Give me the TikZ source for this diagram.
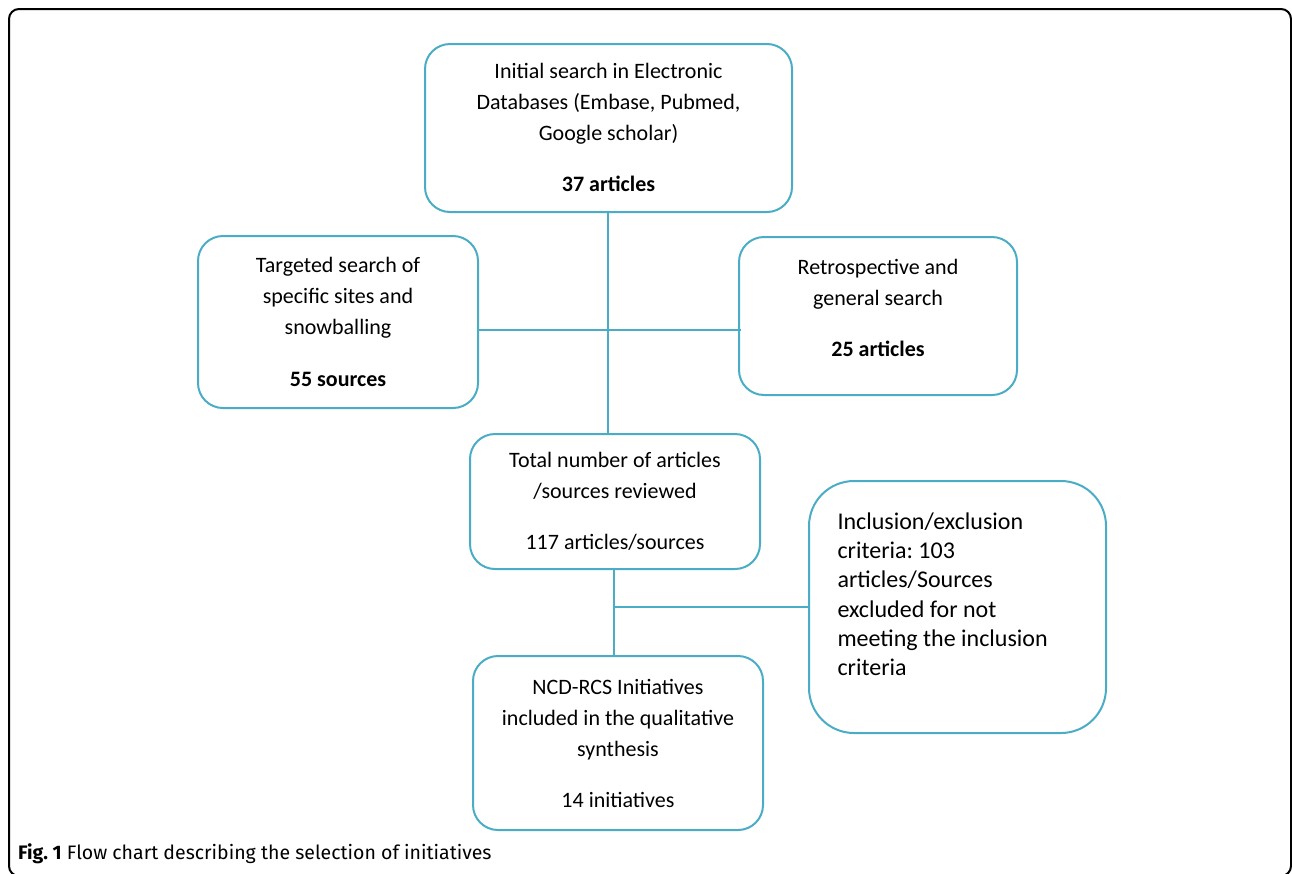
\documentclass[tikz,border=0pt]{standalone}
\usepackage{fontspec}
\setmainfont{Carlito}
\newfontfamily\capfont{Fira Sans}
\definecolor{boxblue}{RGB}{75,172,198}
\frenchspacing

\begin{document}
\begin{tikzpicture}[x=1pt, y=-1pt,
	every node/.style={font=\fontsize{22}{31}\selectfont},
	box/.style={draw=boxblue, line width=2pt, rounded corners=25pt, align=center, inner sep=0pt},
	link/.style={draw=boxblue, line width=2pt}]
				\useasboundingbox (0,0) rectangle (1292,873);
				\draw[line width=2pt, rounded corners=10pt] (9,9) rectangle (1291,876);
				
				\node[box, minimum width=367pt, minimum height=168pt, text depth=1pt] (search) at (608.5,128){Initial search in Electronic\\Databases (Embase, Pubmed,\\Google scholar)\\[20pt]\textbf{37 articles}};
				\node[box, minimum width=280pt, minimum height=172pt] (targeted) at (338,322){Targeted search of\\specific sites and\\snowballing\\[21pt]\textbf{55 sources}};
				\node[box, minimum width=278pt, minimum height=158pt, text depth=16pt] (retro) at (878,316){Retrospective and\\general search\\[20pt]\textbf{25 articles}};
				\node[box, minimum width=290pt, minimum height=135pt] (total) at (615,501.5){Total number of articles\\/sources reviewed\\[20pt]117 articles/sources};
				\node[box, rounded corners=45pt, minimum width=297pt, minimum height=252pt, text width=240pt, align=flush left, inner xsep=28.5pt, text depth=172pt, font=\fontsize{24}{29.3}\selectfont] (excl) at (957.5,607){Inclusion/exclusion\\criteria: 103\\articles/Sources\\excluded for not\\meeting the inclusion\\criteria};
				\node[box, minimum width=290pt, minimum height=174pt] (incl) at (618,743){NCD-RCS Initiatives\\included in the qualitative\\synthesis\\[20pt]14 initiatives};
				
				\coordinate (j) at (608,330);
				\coordinate (k) at (614,607);
				\path[link] (search.south -| j) -- (j |- total.north);
				\path[link] (targeted.east |- j) -- ([xshift=3pt]retro.west |- j);
				\path[link] (k |- total.south) -- (k |- incl.north);
				\path[link] (k) -- (k -| excl.west);
				
				\node[anchor=base west, inner sep=0pt, font=\capfont\fontsize{19.5}{22}\selectfont] (caption) at (18,859){\textbf{Fig. 1} Flow chart describing the selection of initiatives};
\end{tikzpicture}
\end{document}
